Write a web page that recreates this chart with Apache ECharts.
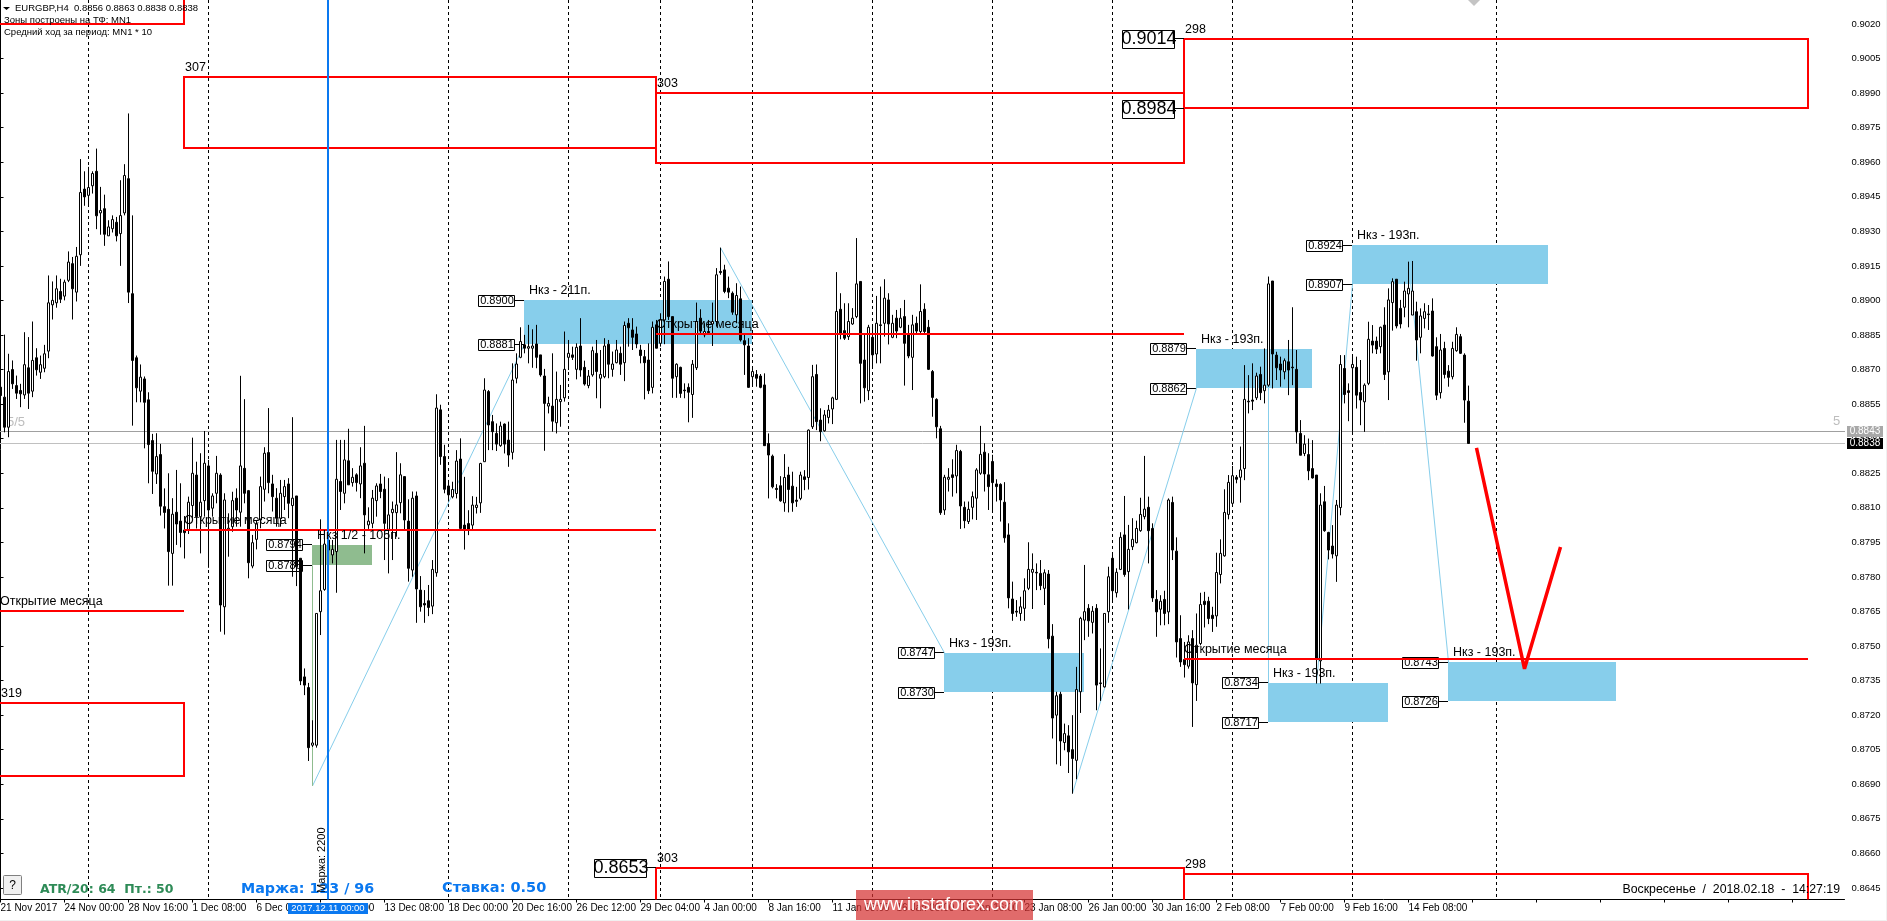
<!DOCTYPE html>
<html>
<head>
<meta charset="utf-8">
<title>EURGBP,H4</title>
<script src="https://cdn.jsdelivr.net/npm/echarts@6/dist/echarts.min.js"></script>
<style>
  html, body { margin: 0; padding: 0; background: #f0f0f0; overflow: hidden; }
  #main { width: 1886px; height: 920px; background: #fff; }
</style>
</head>
<body>
<div id="main"></div>
<script>
// labels under the time axis, one every 16 bars
const timeLabels = ["21 Nov 2017", "24 Nov 00:00", "28 Nov 16:00", "1 Dec 08:00", "6 Dec 00:00", "8 Dec 16:00",
  "13 Dec 08:00", "18 Dec 00:00", "20 Dec 16:00", "26 Dec 12:00", "29 Dec 04:00", "4 Jan 00:00", "8 Jan 16:00",
  "11 Jan 08:00", "16 Jan 00:00", "18 Jan 16:00", "23 Jan 08:00", "26 Jan 00:00", "30 Jan 16:00", "2 Feb 08:00",
  "7 Feb 00:00", "9 Feb 16:00", "14 Feb 08:00"];
const priceTicks = [0.9020, 0.9005, 0.8990, 0.8975, 0.8960, 0.8945, 0.8930, 0.8915, 0.8900, 0.8885, 0.8870, 0.8855, 0.8840,
  0.8825, 0.8810, 0.8795, 0.8780, 0.8765, 0.8750, 0.8735, 0.8720, 0.8705, 0.8690, 0.8675, 0.8660, 0.8645];

const barReadings = [
[88623,88585,88428,88680],[88578,88443,88420,88859],[88443,88693,88398,88773],[88702,88638,88615,88743],
[88630,88596,88570,88675],[88608,88593,88533,88638],[88588,88724,88570,88870],[88710,88596,88525,88848],
[88605,88743,88578,88918],[88755,88701,88675,88798],[88690,88724,88660,88765],[88708,88773,88690,88813],
[88785,89002,88753,89125],[88993,89013,88927,89098],[89002,89065,88980,89125],[89053,89018,89001,89110],
[89032,89095,89013,89106],[89103,89185,89095,89233],[89178,89065,88927,89208],[89050,89211,89008,89253],
[89218,89498,89168,89648],[89513,89478,89438,89593],[89485,89520,89438,89613],[89528,89583,89493,89593],
[89593,89393,89333,89695],[89406,89417,89308,89523],[89425,89310,89258,89488],[89303,89343,89303,89373],
[89335,89376,89318,89395],[89364,89303,89278,89388],[89313,89394,89168,89553],[89406,89574,89395,89625],
[89560,89050,89001,89853],[89043,88743,88450,89395],[88755,88620,88555,88765],[88605,88668,88555,88725],
[88660,88555,88348,88671],[88566,88365,88191,88600],[88383,88245,88143,88413],[88233,88311,88188,88416],
[88320,88088,88046,88368],[88086,88060,87988,88168],[88074,87884,87731,88236],[87876,88052,87731,88124],
[88061,88008,87914,88251],[88021,87970,87903,88191],[87981,87969,87853,88044],[87981,88106,87963,88131],
[88091,88236,88021,88396],[88228,88041,87988,88288],[88041,88106,87876,88326],[88113,88281,88041,88426],
[88269,88071,87811,88296],[88079,88134,88041,88146],[88146,88236,88101,88314],[88228,87644,87524,88236],
[87636,88116,87511,88146],[87981,87989,87861,88056],[87996,88113,87973,88153],[88124,88071,87996,88168],
[88061,88269,87996,88674],[88258,88146,88101,88569],[88158,87834,87764,88161],[87819,87924,87809,87959],
[87939,88008,87894,88026],[88026,88176,87989,88221],[88164,88326,88109,88353],[88329,88194,88146,88529],
[88188,88131,88064,88229],[88124,88034,87996,88169],[88034,88146,87996,88206],[88131,88176,88071,88206],
[88188,88101,88034,88214],[88091,88124,87771,88488],[88134,87816,87729,88134],[87854,87303,87284,87854],
[87321,87284,87239,87359],[87273,87003,86943,87294],[87014,87024,87006,87126],[87014,87606,87003,87606],
[87614,87708,87509,88029],[87714,87918,87708,87981],[87891,87936,87869,87986],[87869,87894,87831,87936],
[87884,88209,87699,88386],[88199,88154,88071,88386],[88146,88296,88101,88386],[88292,88184,88184,88436],
[88194,88218,88176,88259],[88229,88194,88154,88236],[88188,88269,88124,88353],[88281,88049,87876,88449],
[88004,88021,87986,88083],[88011,88124,87989,88161],[88113,88179,88041,88191],[88188,88154,88124,88233],
[88164,88011,87846,88221],[87984,88049,87786,88214],[88059,88074,87846,88109],[88059,88094,87951,88331],
[88104,88229,88056,88281],[88221,88026,87981,88221],[88021,87809,87749,88119],[87801,88124,87771,88154],
[88134,87716,87564,88154],[87711,87636,87614,87774],[87651,87644,87564,87711],[87663,87633,87594,87734],
[87639,87804,87603,87846],[87789,88529,87771,88591],[88521,88311,88274,88544],[88311,88164,88146,88364],
[88179,88139,88109,88206],[88130,88163,88123,88198],[88145,88291,88123,88340],[88300,87988,87988,88393],
[88003,87980,87893,88220],[88010,87983,87958,88070],[88003,88093,87980,88133],[88082,88093,88055,88130],
[88103,88280,88058,88283],[88288,88610,88288,88663],[88603,88453,88340,88610],[88468,88423,88340,88498],
[88415,88367,88336,88460],[88360,88448,88355,88468],[88457,88367,88325,88460],[88385,88318,88265,88468],
[88330,88655,88298,88730],[88663,88727,88640,88775],[88757,88828,88753,88892],[88813,88798,88775,88858],
[88798,88805,88730,88903],[88798,88808,88710,88883],[88817,88757,88708,88903],[88768,88678,88670,88768],
[88673,88550,88337,88705],[88538,88550,88505,88580],[88538,88470,88423,88775],[88463,88568,88415,88693],
[88558,88568,88445,88633],[88575,88703,88558,88873],[88757,88775,88700,88835],[88768,88757,88745,88805],
[88703,88802,88658,88820],[88808,88700,88670,88933],[88712,88637,88630,88742],[88630,88673,88618,88700],
[88678,88787,88670,88805],[88775,88693,88573,88835],[88663,88680,88528,88790],[88670,88808,88663,88843],
[88816,88726,88663,88835],[88703,88727,88670,88783],[88733,88790,88730,88835],[88775,88726,88678,88805],
[88733,88900,88650,88918],[88910,88890,88805,88933],[88880,88847,88790,88933],[88862,88817,88798,88895],
[88790,88765,88730,88813],[88760,88733,88568,88790],[88745,88607,88592,88820],[88622,88892,88595,88918],
[88903,88798,88798,88925],[88820,88925,88805,88955],[88925,89098,88816,89120],[89108,88940,88925,89188],
[88940,88663,88575,88940],[88670,88726,88575,88730],[88712,88595,88575,88715],[88610,88607,88573,88640],
[88622,88600,88465,88640],[88590,88726,88485,88745],[88710,88918,88700,89003],[88933,88875,88858,88973],
[88858,88873,88847,88910],[88873,88868,88858,88925],[88907,88918,88808,89003],[88918,89128,88895,89158],
[89143,89138,89128,89250],[89150,89053,89045,89173],[89068,89050,89023,89120],[89045,88960,88948,89053],
[88948,89035,88910,89090],[89020,88835,88828,89075],[88832,88813,88678,88858],[88808,88622,88620,88843],
[88670,88693,88628,88715],[88680,88663,88625,88700],[88673,88622,88618,88682],[88633,88360,88360,88685],
[88370,88318,88123,88415],[88313,88175,88168,88320],[88168,88163,88123,88187],[88180,88112,88108,88223],
[88103,88217,88063,88322],[88228,88163,88060,88265],[88178,88103,88063,88243],[88115,88110,88085,88175],
[88123,88228,88115,88243],[88220,88208,88160,88250],[88217,88430,88163,88433],[88445,88670,88435,88723],
[88680,88468,88430,88725],[88475,88423,88380,88528],[88427,88498,88423,88520],[88487,88520,88460,88543],
[88525,88575,88457,88580],[88568,88963,88565,89140],[88973,88865,88838,89045],[88877,88843,88835,89000],
[88850,88918,88835,89000],[88907,88933,88903,88978],[88940,89087,88933,89293],[89098,88730,88550,89098],
[88745,88620,88558,88865],[88607,88892,88565,88903],[88847,88768,88710,88903],[88772,88910,88730,89033],
[88903,88900,88730,89075],[88910,89023,88850,89108],[89015,88907,88815,89045],[88847,88910,88843,88948],
[88933,88875,88843,88970],[88892,88933,88888,88978],[88940,88820,88630,89015],[88858,88763,88753,88903],
[88757,88903,88610,88948],[88910,88875,88865,88940],[88873,88963,88865,89085],[88973,88873,88865,89000],
[88892,88703,88700,88925],[88693,88577,88490,88700],[88568,88445,88393,88573],[88436,88059,88049,88449],
[88071,88218,88049,88229],[88209,88218,88154,88259],[88229,88217,88131,88299],[88224,88338,88146,88364],
[88334,88089,87986,88341],[88083,88023,87989,88109],[88019,88074,88008,88109],[88083,88131,88029,88154],
[88124,88251,88026,88259],[88236,88321,88229,88449],[88331,88233,88154,88371],[88229,88176,88071,88326],
[88289,88194,88071,88319],[88188,88176,88109,88209],[88186,88116,88019,88191],[88106,87946,87924,88196],
[87959,87676,87629,88011],[87671,87606,87573,87749],[87616,87612,87591,87666],[87606,87636,87573,87681],
[87629,87708,87573,87764],[87719,87804,87711,87926],[87791,87804,87626,87876],[87791,87788,87711,87831],
[87786,87731,87711,87846],[87719,87789,87644,87804],[87783,87492,87449,87801],[87504,87136,87044,87558],
[87149,87236,86928,87254],[87243,87033,86921,87254],[87026,87066,86991,87111],[87056,86984,86889,87104],
[86994,86954,86796,87149],[86946,87264,86861,87366],[87254,87584,87159,87591],[87576,87614,87486,87824],
[87629,87573,87501,87648],[87566,87616,87516,87639],[87629,87284,87171,87648],[87294,87291,87213,87449],
[87276,87606,87273,87606],[87614,87771,87564,87816],[87854,87708,87666,87869],[87699,87791,87678,87809],
[87804,87948,87801,87971],[87959,87781,87771,88134],[87794,87894,87624,88004],[87906,87939,87891,88034],
[87924,87988,87921,88023],[87978,88051,87973,88126],[88041,88075,88029,88314],[88083,87978,87831,88131],
[87988,87676,87658,88011],[87669,87613,87501,87711],[87625,87661,87553,87688],[87669,87606,87553,87708],
[87613,88116,87558,88123],[88105,87891,87846,88131],[87886,87478,87408,87948],[87493,87388,87366,87598],
[87399,87376,87318,87478],[87369,87478,87358,87508],[87493,87294,87096,87531],[87286,87463,87213,87606],
[87471,87646,87463,87699],[87661,87646,87543,87703],[87661,87583,87558,87681],[87598,87583,87523,87636],
[87595,87790,87546,87879],[87781,87876,87741,87939],[87865,88060,87861,88164],[88051,88195,88029,88228],
[88101,88225,88089,88269],[88218,88209,88191,88228],[88218,88251,88104,88356],[88257,88568,88205,88722],
[88560,88557,88505,88677],[88565,88560,88520,88730],[88575,88673,88565,88688],[88680,88598,88565,88715],
[88607,88632,88550,88797],[88632,89087,88625,89120],[89100,88772,88617,89100],[88767,88710,88655,88782],
[88727,88700,88625,88760],[88692,88742,88658,88752],[88737,88700,88587,88835],[88713,88710,88632,88982],
[88703,88422,88370,88790],[88415,88317,88317,88475],[88325,88367,88313,88407],[88320,88247,88205,88392],
[88257,88215,88212,88385],[88228,87403,87291,88228],[87393,88093,87291,88146],[88108,87978,87973,88179],
[87970,87891,87849,87973],[87909,87873,87853,88003],[87865,88093,87748,88116],[88082,88725,88047,88767],
[88707,88590,88550,88767],[88607,88599,88470,88640],[88710,88725,88422,88760],[88712,88587,88527,88760],
[88599,88565,88452,88745],[88557,88632,88422,88640],[88640,88838,88632,88917],[88830,88812,88775,88902],
[88830,88794,88772,88850],[88805,88892,88775,88895],[88902,88680,88655,88982],[88692,89015,88565,89067],
[89003,89097,88877,89112],[89108,88898,88887,89108],[88977,88907,88887,89015],[88982,89055,88937,89097],
[89042,89067,88892,89187],[88947,89055,88947,89190],[88962,88835,88742,89007],[88847,88943,88775,88977],
[88932,88962,88887,89000],[88952,88949,88880,88992],[88965,88763,88760,89022],[88805,88587,88565,88847],
[88598,88790,88572,88862],[88797,88680,88662,88827],[88695,88667,88625,88722],[88670,88797,88658,88827],
[88787,88860,88782,88892],[88850,88775,88772,88862],[88767,88565,88463,88775],[88560,88370,88370,88630]
];
const toPrice = v => (88389 + (v - 88380) * 0.9658) / 100000;

// weekly separators and the marked bar, as bar numbers
const separatorBars = [22, 52, 112, 142, 165, 188, 218, 248, 278, 308, 338, 374];
const markedBar = 82;
const livePrices = [[0.8843, "#a8a8a8", "#a0a0a0"], [0.8838, "#000", "#c0c0c0"]];

// red month zones: from bar, to bar, top, bottom, caption
const monthZones = [
  [-3, 46, 0.9100, 0.9020, ""],
  [46, 164, 0.8997, 0.89663, "307"],
  [164, 296, 0.89902, 0.89598, "303"],
  [296, 452, 0.90135, 0.89835, "298"],
  [-3, 46, 0.87253, 0.86938, "319"],
  [164, 296, 0.86537, 0.8600, "303"],
  [296, 452, 0.86511, 0.8600, "298"]
];
const zoneLevels = [[296, 0.90135, "0.9014"], [296, 0.89835, "0.8984"], [164, 0.86537, "0.8653"]];
// month open lines: from bar, to bar, price
const monthOpens = [[-3, 46, 0.87654], [46, 164, 0.88004], [164, 296, 0.88855], [296, 452, 0.87444]];
const monthOpenText = "Открытие месяца";
// Нкз boxes: from bar, to bar, top, bottom, caption
const nkzBoxes = [
  [131, 188, 0.8900, 0.8881, "Нкз - 211п."],
  [236, 271, 0.8747, 0.8730, "Нкз - 193п."],
  [299, 328, 0.8879, 0.8862, "Нкз - 193п."],
  [317, 347, 0.8734, 0.8717, "Нкз - 193п."],
  [338, 387, 0.8924, 0.8907, "Нкз - 193п."],
  [362, 404, 0.8743, 0.8726, "Нкз - 193п."]
];
const halfBoxes = [[78, 93, 0.8794, 0.8785, "Нкз 1/2 - 105п."]];
// thin swing lines: [bar, price] pairs
const swingLegs = [
  [[78, 0.86893], [131, 0.8881]],
  [[180, 0.89229], [236, 0.8747]],
  [[268, 0.86861], [299, 0.8862]],
  [[317, 0.89102], [317, 0.8734]],
  [[329, 0.87337], [338, 0.8907]],
  [[352, 0.89168], [362, 0.8743]]
];
const halfLeg = [[78, 0.8785], [78, 0.86893]];
const forecastPath = [[369, 0.8836], [381, 0.87401], [390, 0.8793]];

const LAST_BAR = 461;
const categories = new Array(LAST_BAR + 1).fill("");
timeLabels.forEach((t, k) => { categories[k * 16] = t; });

const SANS = '"Liberation Sans", Arial, sans-serif';
const RED = "#ff0000";
const SKY = "#87ceeb";
const BLUE = "#0a78f0";

// a custom series over the hidden bar-number axis, one draw call per list item
function overlay(z, items, draw, clip) {
  return {
    type: "custom", coordinateSystem: "cartesian2d", xAxisIndex: 1, yAxisIndex: 0,
    z: z, silent: true, animation: false, clip: clip !== false,
    data: items.map((_, i) => [i, 0]),
    renderItem: (params, api) => draw(items[params.dataIndex], api)
  };
}
const smallText = (x, y, text, font, fill) => ({
  type: "text", x: x, y: y,
  style: { text: text, font: font || "12.5px " + SANS, fill: fill || "#000", align: "left", verticalAlign: "middle" }
});
const crisp = v => Math.floor(v) + 0.5;

// boxed price on the left of a box, with its little leader
function priceTag(api, bar, price, text, w, h, font) {
  const p = api.coord([bar, price]);
  const y = crisp(p[1]);
  const right = Math.floor(p[0]) - 10;
  return {
    type: "group",
    children: [
      { type: "line", shape: { x1: right, y1: y, x2: Math.floor(p[0]), y2: y }, style: { stroke: "#000", lineWidth: 1 } },
      { type: "rect", shape: { x: right - w + 0.5, y: Math.round(y - h / 2) + 0.5, width: w, height: h },
        style: { fill: "#fff", stroke: "#000", lineWidth: 1 } },
      { type: "text", x: right - w / 2 + 1, y: y + 0.5,
        style: { text: text, font: font, fill: "#000", align: "center", verticalAlign: "middle" } }
    ]
  };
}
const boxDraw = fill => (b, api) => {
  const a = api.coord([b[0], b[2]]);
  const c = api.coord([b[1], b[3]]);
  return {
    type: "rect",
    shape: { x: Math.floor(a[0]), y: Math.round(a[1]), width: Math.floor(c[0]) - Math.floor(a[0]), height: Math.round(c[1]) - Math.round(a[1]) },
    style: { fill: fill }
  };
};
const boxTags = (b, api) => ({
  type: "group",
  children: [b[2], b[3]].map(v => priceTag(api, b[0], v, v.toFixed(4), 36, 11, "11px " + SANS))
});
const boxCaption = (b, api) => {
  const p = api.coord([b[0], b[2]]);
  return smallText(Math.floor(p[0]) + 5, p[1] - 9.5, b[4]);
};

const legLine = (data, color, width, z) => ({
  type: "line", xAxisIndex: 1, yAxisIndex: 0, data: data, z: z, silent: true, animation: false,
  showSymbol: false, symbol: "none", lineStyle: { color: color, width: width, cap: "butt" }
});

const series = [
  // separators and live price lines sit at the back
  overlay(1, separatorBars, (bar, api) => {
    const top = api.coord([bar, 0.9040]);
    const bot = api.coord([bar, 0.8640]);
    const x = crisp(top[0]);
    return { type: "line", shape: { x1: x, y1: 0, x2: x, y2: bot[1] }, style: { stroke: "#000", lineWidth: 1, lineDash: [3, 3] } };
  }),
  overlay(1, livePrices, (lv, api) => {
    const a = api.coord([0, lv[0]]);
    const b = api.coord([LAST_BAR, lv[0]]);
    const y = crisp(a[1]);
    return { type: "line", shape: { x1: 0, y1: y, x2: b[0] + 1, y2: y }, style: { stroke: lv[2], lineWidth: 1 } };
  }),
  overlay(2, nkzBoxes, boxDraw(SKY)),
  overlay(2, halfBoxes, boxDraw("#8fbc8f")),
  overlay(3, nkzBoxes, boxTags),
  overlay(3, halfBoxes, boxTags),
  ...swingLegs.map(leg => legLine(leg, SKY, 1, 3)),
  legLine(halfLeg, "#8fbc8f", 1, 3),
  {
    type: "candlestick", xAxisIndex: 0, yAxisIndex: 0, z: 4, barWidth: 3, silent: true, animation: false,
    data: barReadings.map(r => r.map(toPrice)),
    itemStyle: { color: "#fff", color0: "#000", borderColor: "#000", borderColor0: "#000", borderWidth: 1 }
  },
  // everything in red goes over the bars
  overlay(5, monthZones, (z, api) => {
    const a = api.coord([z[0], z[2]]);
    const c = api.coord([z[1], z[3]]);
    return {
      type: "rect",
      shape: { x: Math.floor(a[0]), y: Math.round(a[1]), width: Math.floor(c[0]) - Math.floor(a[0]), height: Math.round(c[1]) - Math.round(a[1]) },
      style: { fill: "none", stroke: RED, lineWidth: 2 }
    };
  }),
  overlay(5, monthOpens, (m, api) => {
    const a = api.coord([m[0], m[2]]);
    const b = api.coord([m[1], m[2]]);
    const y = Math.round(a[1]);
    return { type: "line", shape: { x1: Math.floor(a[0]), y1: y, x2: Math.floor(b[0]), y2: y }, style: { stroke: RED, lineWidth: 2 } };
  }),
  legLine(forecastPath, RED, 3.5, 5),
  overlay(6, [markedBar], (bar, api) => {
    const a = api.coord([bar, 0.9040]);
    const x = Math.floor(a[0]);
    return { type: "line", shape: { x1: x, y1: 0, x2: x, y2: 900 }, style: { stroke: BLUE, lineWidth: 2 } };
  }),
  // captions
  overlay(7, monthZones.filter(z => z[4]), (z, api) => {
    const p = api.coord([z[0], z[2]]);
    return smallText(Math.max(Math.floor(p[0]), 0) + 1, p[1] - 9.5, z[4]);
  }),
  overlay(7, monthOpens, (m, api) => {
    const p = api.coord([m[0], m[2]]);
    return smallText(Math.max(Math.floor(p[0]), 0), p[1] - 9.5, monthOpenText);
  }),
  overlay(7, nkzBoxes, boxCaption),
  overlay(7, halfBoxes, boxCaption),
  overlay(7, zoneLevels, (l, api) => priceTag(api, l[0], l[1], l[2], 52, 18, '18px "Liberation Sans Narrow", ' + SANS)),
  // live price flags on the price scale
  overlay(8, livePrices, (lv, api) => {
    const p = api.coord([LAST_BAR, lv[0]]);
    const y = Math.floor(p[1]);
    return {
      type: "group",
      children: [
        { type: "rect", shape: { x: 1847, y: y - 5, width: 36, height: 11 }, style: { fill: lv[1] } },
        { type: "text", x: 1865, y: y + 0.5, style: { text: lv[0].toFixed(4), font: "10px " + SANS, fill: "#fff", align: "center", verticalAlign: "middle" } }
      ]
    };
  }, false)
];

const chart = echarts.init(document.getElementById("main"), null, { renderer: "canvas" });
chart.setOption({
  backgroundColor: "#fff",
  animation: false,
  grid: { left: 0.5, top: 0, width: 1844, height: 899.5, containLabel: false, outerBoundsMode: "none" },
  xAxis: [
    {
      type: "category", data: categories, boundaryGap: false, position: "bottom",
      axisLine: { lineStyle: { color: "#000", width: 1 } },
      axisTick: { interval: 15, length: 3, lineStyle: { color: "#000" } },
      axisLabel: { interval: 15, align: "left", color: "#000", fontFamily: SANS, fontSize: 10, margin: 4, hideOverlap: false, showMinLabel: true },
      splitLine: { show: false }
    },
    { type: "value", min: 0, max: LAST_BAR, show: false, position: "bottom" }
  ],
  yAxis: {
    type: "value", position: "right", offset: 1, min: 0.8640, max: 0.90304, scale: true,
    axisLine: { show: true, lineStyle: { color: "#000", width: 1 } },
    axisTick: { show: true, length: 3, customValues: priceTicks, lineStyle: { color: "#000" } },
    axisLabel: { customValues: priceTicks, formatter: v => v.toFixed(4), color: "#000", fontFamily: SANS, fontSize: 9.5, margin: 6, showMinLabel: true, showMaxLabel: true },
    splitLine: { show: false }
  },
  series: series,
  graphic: { elements: [
    { type: "polygon", z: 100, shape: { points: [[3, 7], [10, 7], [6.5, 10]] }, style: { fill: "#000" } },
    { type: "text", z: 100, x: 15, y: 8, style: { text: "EURGBP,H4  0.8856 0.8863 0.8838 0.8838", font: "9.5px " + SANS, fill: "#000", verticalAlign: "middle" } },
    { type: "text", z: 100, x: 4, y: 20.5, style: { text: "Зоны построены на ТФ: MN1", font: "9.5px " + SANS, fill: "#000", verticalAlign: "middle" } },
    { type: "text", z: 100, x: 4, y: 32.5, style: { text: "Средний ход за период: MN1 * 10", font: "9.5px " + SANS, fill: "#000", verticalAlign: "middle" } },
    { type: "text", z: 3, x: 7, y: 422.5, style: { text: "5/5", font: "13px " + SANS, fill: "#bdbdbd", verticalAlign: "middle" } },
    { type: "text", z: 100, x: 1833, y: 421, style: { text: "5", font: "13px " + SANS, fill: "#bdbdbd", verticalAlign: "middle" } },
    { type: "polygon", z: 100, shape: { points: [[1468, 0], [1480, 0], [1474, 6]] }, style: { fill: "#c4c4c4" } },
    { type: "rect", z: 100, shape: { x: 3.5, y: 875.5, width: 18, height: 19, r: 1 }, style: { fill: "#f0f0f0", stroke: "#808080", lineWidth: 1 } },
    { type: "text", z: 101, x: 12.5, y: 885.5, style: { text: "?", font: "12px " + SANS, fill: "#000", align: "center", verticalAlign: "middle" } },
    { type: "text", z: 100, x: 40, y: 890, style: { text: "ATR/20: 64  Пт.: 50", font: 'bold 12.5px "DejaVu Sans"', fill: "#2e8b57", verticalAlign: "middle" } },
    { type: "text", z: 100, x: 241, y: 889, style: { text: "Маржа: 123 / 96", font: 'bold 14.25px "DejaVu Sans"', fill: BLUE, verticalAlign: "middle" } },
    { type: "text", z: 100, x: 442, y: 888.5, style: { text: "Ставка: 0.50", font: 'bold 14.5px "DejaVu Sans"', fill: BLUE, verticalAlign: "middle" } },
    { type: "text", z: 100, x: 322, y: 893, rotation: Math.PI / 2, style: { text: "Маржа: 2200", font: "11px " + SANS, fill: "#000", verticalAlign: "middle" } },
    { type: "rect", z: 100, shape: { x: 288, y: 903, width: 80, height: 11 }, style: { fill: BLUE } },
    { type: "text", z: 101, x: 328, y: 908.5, style: { text: "2017.12.11 00:00", font: "9.5px " + SANS, fill: "#fff", align: "center", verticalAlign: "middle" } },
    { type: "text", z: 100, x: 1840, y: 889.5, style: { text: "Воскресенье  /  2018.02.18  -  14:27:19", font: "12.3px " + SANS, fill: "#000", align: "right", verticalAlign: "middle" } },
    { type: "rect", z: 110, shape: { x: 856, y: 890, width: 177, height: 30 }, style: { fill: "rgba(214,50,50,0.72)" } },
    { type: "text", z: 111, x: 944, y: 905, style: { text: "www.instaforex.com", font: "18px " + SANS, fill: "#fff", align: "center", verticalAlign: "middle" } }
  ] }
});
</script>
</body>
</html>
